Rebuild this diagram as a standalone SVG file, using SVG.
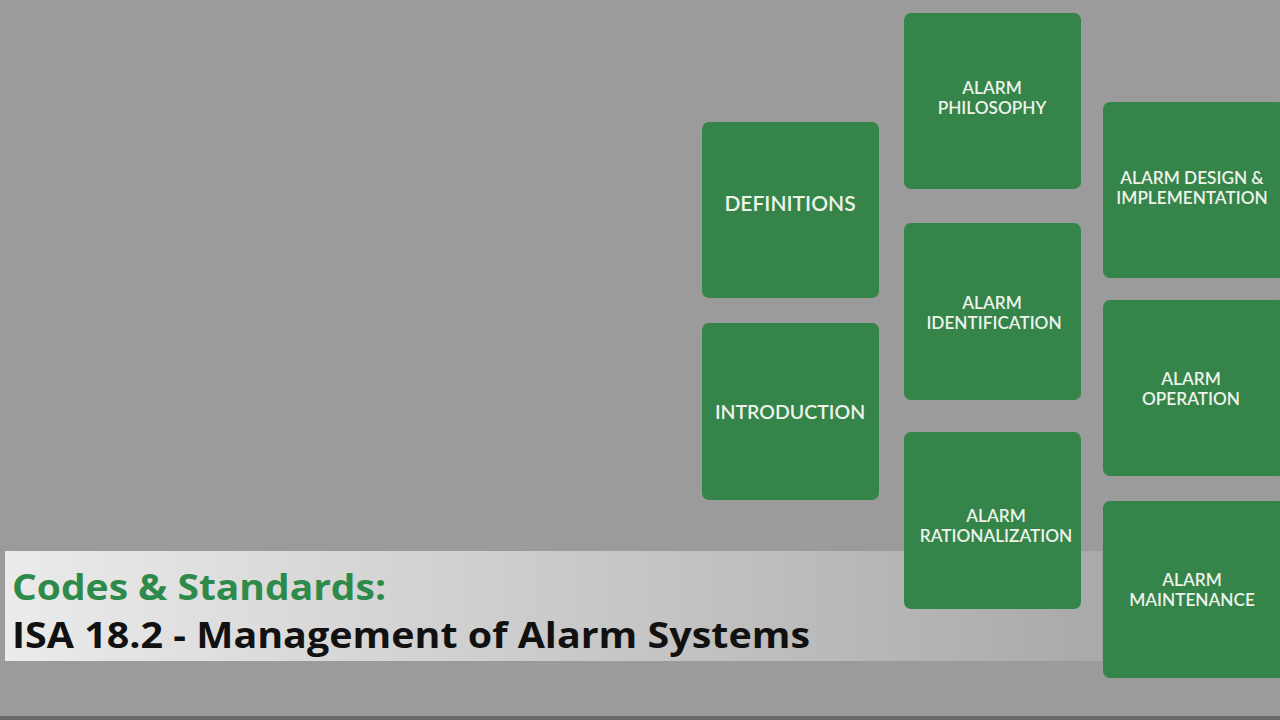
<svg xmlns="http://www.w3.org/2000/svg" width="1280" height="720" viewBox="0 0 1280 720">
<defs>
<linearGradient id="band" x1="0" y1="0" x2="1" y2="0">
<stop offset="0" stop-color="#ebebeb"/>
<stop offset="0.6" stop-color="#c4c4c4"/>
<stop offset="1" stop-color="#a9a9a9"/>
</linearGradient>
</defs>
<style>
.box{fill:#35844a}
.lbl{font-family:Lato,"Open Sans",sans-serif;font-size:17.2px;font-weight:600;fill:#eef3ea;text-anchor:middle}
.big{font-size:21px}
.t1{font-family:"Open Sans","Noto Sans",sans-serif;font-weight:bold;font-size:36px;fill:#2e8a4a}
.t2{font-family:"Open Sans","Noto Sans",sans-serif;font-weight:bold;font-size:36px;fill:#111}
</style>
<rect width="1280" height="720" fill="#9b9b9b"/>
<rect x="0" y="716" width="1280" height="4" fill="#6a6a6a"/>
<g id="banner">
<rect x="5" y="551" width="1097" height="110" fill="url(#band)"/>
<text class="t1" x="12" y="600" textLength="374" lengthAdjust="spacingAndGlyphs">Codes &amp; Standards:</text>
<text class="t2" x="12" y="648" textLength="798" lengthAdjust="spacingAndGlyphs">ISA 18.2 - Management of Alarm Systems</text>
</g>
<g id="connectors"></g>
<g id="definitions"><rect class="box" x="702" y="122" width="177" height="176" rx="7"/><text class="lbl big" x="790" y="211">DEFINITIONS</text></g>
<g id="introduction"><rect class="box" x="702" y="323" width="177" height="177" rx="7"/><text class="lbl" x="790" y="419" style="font-size:19.5px">INTRODUCTION</text></g>
<g id="philosophy"><rect class="box" x="904" y="13" width="177" height="176" rx="7"/><text class="lbl" x="992" y="94">ALARM</text><text class="lbl" x="992" y="114">PHILOSOPHY</text></g>
<g id="identification"><rect class="box" x="904" y="223" width="177" height="177" rx="7"/><text class="lbl" x="992" y="309">ALARM</text><text class="lbl" x="994" y="329">IDENTIFICATION</text></g>
<g id="rationalization"><rect class="box" x="904" y="432" width="177" height="177" rx="7"/><text class="lbl" x="996" y="522">ALARM</text><text class="lbl" x="996" y="542">RATIONALIZATION</text></g>
<g id="design"><rect class="box" x="1103" y="102" width="182" height="176" rx="7"/><text class="lbl" x="1192" y="184">ALARM DESIGN &amp;</text><text class="lbl" x="1192" y="204">IMPLEMENTATION</text></g>
<g id="operation"><rect class="box" x="1103" y="300" width="182" height="176" rx="7"/><text class="lbl" x="1191" y="385">ALARM</text><text class="lbl" x="1191" y="405">OPERATION</text></g>
<g id="maintenance"><rect class="box" x="1103" y="501" width="182" height="177" rx="7"/><text class="lbl" x="1192" y="586">ALARM</text><text class="lbl" x="1192" y="606">MAINTENANCE</text></g>
</svg>
